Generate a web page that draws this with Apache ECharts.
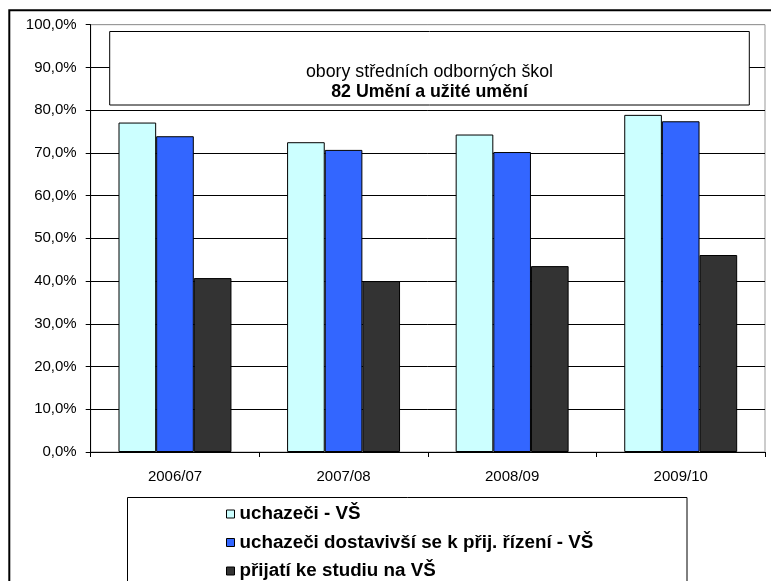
<!DOCTYPE html>
<html>
<head>
<meta charset="utf-8">
<script src="https://cdn.jsdelivr.net/npm/echarts@6/dist/echarts.min.js"></script>
<style>
html,body{margin:0;padding:0;background:#fff;}
#chart{width:771px;height:581px;}
</style>
</head>
<body>
<div id="chart"></div>
<script>
const categories = ['2006/07', '2007/08', '2008/09', '2009/10'];
const seriesNames = ['uchazeči - VŠ', 'uchazeči dostavivší se k přij. řízení - VŠ', 'přijatí ke studiu na VŠ'];
const uchazeci = [77.1, 72.5, 74.3, 78.9];
const dostavivsi = [73.9, 70.7, 70.2, 77.4];
const prijati = [40.7, 40.0, 43.5, 46.1];
const titleLine1 = 'obory středních odborných škol';
const titleLine2 = '82 Umění a užité umění';

const FONT = '"Liberation Sans", Arial, sans-serif';
const colors = ['#CCFFFF', '#3366FF', '#333333'];
const dataSets = [uchazeci, dostavivsi, prijati];

const chart = echarts.init(document.getElementById('chart'));
const splitColors = [];
for (let i = 0; i < 10; i++) splitColors.push('#000');
splitColors.push('#999');

chart.setOption({
  animation: false,
  backgroundColor: '#fff',
  grid: {
    left: 90.7, right: 6, top: 24.7, bottom: 129,
    show: true, borderColor: '#999', borderWidth: 1, backgroundColor: 'transparent'
  },
  xAxis: {
    type: 'category',
    data: categories,
    axisLine: {lineStyle: {color: '#000', width: 1}},
    axisTick: {show: true, length: 5, lineStyle: {color: '#000'}},
    axisLabel: {color: '#000', fontSize: 15, fontFamily: FONT, margin: 17}
  },
  yAxis: {
    type: 'value',
    min: 0, max: 100, interval: 10,
    axisLine: {show: true, lineStyle: {color: '#000', width: 1}},
    axisTick: {show: true, length: 5, lineStyle: {color: '#000'}},
    axisLabel: {
      color: '#000', fontSize: 15, fontFamily: FONT, margin: 14,
      formatter: v => v.toFixed(1).replace('.', ',') + '%'
    },
    splitLine: {show: true, lineStyle: {color: splitColors, width: 1}}
  },
  legend: {
    orient: 'vertical',
    left: 226, top: 504, height: 120,
    padding: 0,
    itemWidth: 8, itemHeight: 8, itemGap: 8.5,
    icon: 'rect',
    itemStyle: {borderColor: '#000', borderWidth: 1},
    textStyle: {color: '#000', fontSize: 18.8, fontWeight: 'bold', fontFamily: FONT, lineHeight: 20},
    data: seriesNames
  },
  series: seriesNames.map((name, i) => ({
    name: name,
    type: 'bar',
    data: dataSets[i],
    barGap: '0%',
    barCategoryGap: '33%',
    itemStyle: {color: colors[i], borderColor: '#000', borderWidth: 1}
  })),
  graphic: [
    {
      type: 'rect', z: 100,
      shape: {x: 9.3, y: 10.3, width: 800, height: 700},
      style: {fill: 'none', stroke: '#000', lineWidth: 2}
    },
    {
      type: 'rect', z: 100,
      shape: {x: 109.7, y: 31.5, width: 639.6, height: 73.5},
      style: {fill: '#fff', stroke: '#000', lineWidth: 1}
    },
    {
      type: 'text', z: 101,
      style: {x: 429.5, y: 71.7, text: titleLine1, textAlign: 'center', textVerticalAlign: 'middle',
        font: 'normal 17.8px ' + FONT, fill: '#000'}
    },
    {
      type: 'text', z: 101,
      style: {x: 429.5, y: 91.7, text: titleLine2, textAlign: 'center', textVerticalAlign: 'middle',
        font: 'bold 17.8px ' + FONT, fill: '#000'}
    },
    {
      type: 'rect', z: 100,
      shape: {x: 127.5, y: 497.5, width: 559.5, height: 200},
      style: {fill: 'none', stroke: '#000', lineWidth: 1}
    }
  ]
});
</script>
</body>
</html>
